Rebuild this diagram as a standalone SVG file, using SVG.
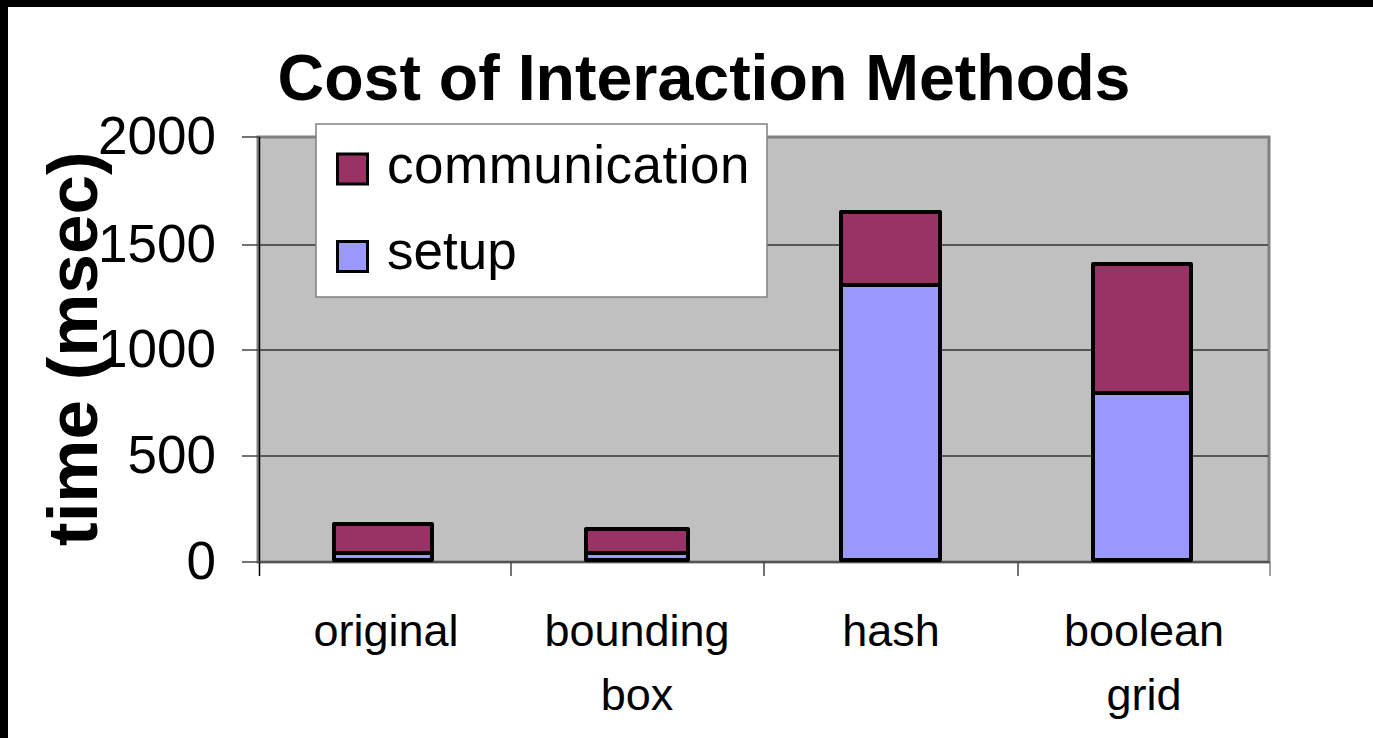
<svg xmlns="http://www.w3.org/2000/svg" width="1373" height="738" viewBox="0 0 1373 738">
<style>
text{font-family:"Liberation Sans",Arial,sans-serif;fill:#000}
.tick{font-size:53px;text-anchor:end}
.cat{font-size:45px;text-anchor:middle}
.leg{font-size:53px}
.comm{fill:#993366;stroke:#000;stroke-width:4;stroke-linejoin:round}
.setup{fill:#9999FF;stroke:#000;stroke-width:4;stroke-linejoin:round}
.grid{stroke:#333;stroke-width:1.3}
.tk{stroke:#444;stroke-width:1.5}
</style>
<rect width="1373" height="738" fill="#fff"/>
<rect x="0" y="0" width="1373" height="7" fill="#000"/>
<rect x="0" y="0" width="8" height="738" fill="#000"/>
<text id="title" x="704" y="100" font-size="64.5" font-weight="bold" text-anchor="middle">Cost of Interaction Methods</text>
<g id="plot">
<rect x="258" y="137" width="1011" height="425" fill="#C0C0C0" stroke="#808080" stroke-width="3"/>
<line class="grid" x1="259" y1="245" x2="1268" y2="245"/>
<line class="grid" x1="259" y1="350" x2="1268" y2="350"/>
<line class="grid" x1="259" y1="456" x2="1268" y2="456"/>
</g>
<g id="axes">
<line x1="259.5" y1="137" x2="259.5" y2="576" stroke="#000" stroke-width="1.5"/>
<line x1="242" y1="562" x2="1270" y2="562" stroke="#444" stroke-width="1.5"/>
<line class="tk" x1="242" y1="137" x2="259" y2="137"/>
<line class="tk" x1="242" y1="245" x2="259" y2="245"/>
<line class="tk" x1="242" y1="350" x2="259" y2="350"/>
<line class="tk" x1="242" y1="456" x2="259" y2="456"/>
<line class="tk" x1="511" y1="562" x2="511" y2="576"/>
<line class="tk" x1="764" y1="562" x2="764" y2="576"/>
<line class="tk" x1="1018" y1="562" x2="1018" y2="576"/>
<line x1="1270" y1="562" x2="1270" y2="576" stroke="#808080" stroke-width="1.5"/>
<text class="tick" x="216" y="154">2000</text>
<text class="tick" x="216" y="262">1500</text>
<text class="tick" x="216" y="367">1000</text>
<text class="tick" x="216" y="473">500</text>
<text class="tick" x="216" y="579">0</text>
<text x="97" y="546" font-size="71" font-weight="bold" transform="rotate(-90 97 546)">time (msec)</text>
</g>
<g id="bar-original">
<rect class="setup" x="334" y="553" width="98" height="7"/>
<rect class="comm" x="334" y="524" width="98" height="29"/>
</g>
<g id="bar-bounding-box">
<rect class="setup" x="586" y="553" width="102" height="7"/>
<rect class="comm" x="586" y="529" width="102" height="24"/>
</g>
<g id="bar-hash">
<rect class="setup" x="841" y="285" width="99" height="275"/>
<rect class="comm" x="841" y="212" width="99" height="73"/>
</g>
<g id="bar-boolean-grid">
<rect class="setup" x="1093" y="393" width="98" height="167"/>
<rect class="comm" x="1093" y="264" width="98" height="129"/>
</g>
<g id="categories">
<text class="cat" x="386" y="646">original</text>
<text class="cat" x="637" y="646">bounding</text>
<text class="cat" x="637" y="710">box</text>
<text class="cat" x="891" y="646">hash</text>
<text class="cat" x="1144" y="646">boolean</text>
<text class="cat" x="1144" y="710">grid</text>
</g>
<g id="legend">
<rect x="316" y="124" width="451" height="173" fill="#fff" stroke="#808080" stroke-width="1.5"/>
<rect x="337.5" y="154" width="30" height="30" fill="#993366" stroke="#000" stroke-width="3"/>
<text class="leg" x="387" y="183" letter-spacing="0.5">communication</text>
<rect x="337.5" y="241.5" width="30" height="30" fill="#9999FF" stroke="#000" stroke-width="3"/>
<text class="leg" x="387" y="269">setup</text>
</g>
</svg>
